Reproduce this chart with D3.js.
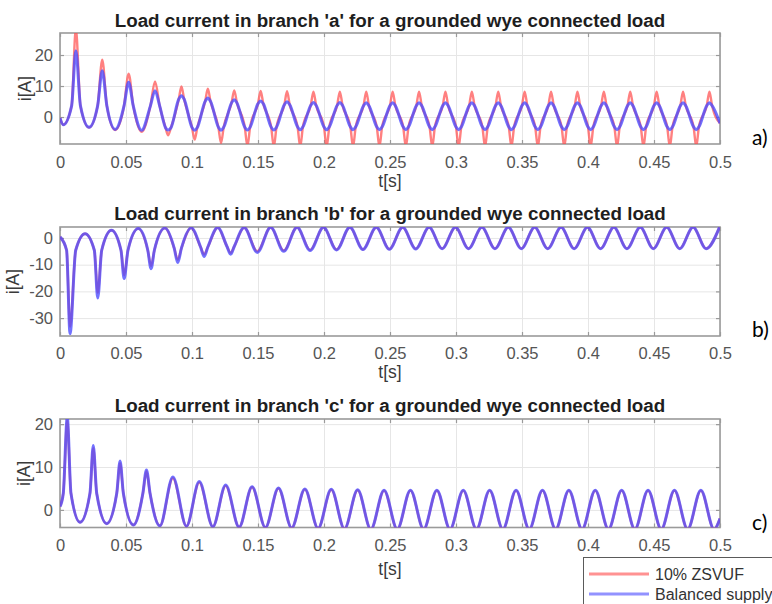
<!DOCTYPE html>
<html>
<head>
<meta charset="utf-8">
<script src="https://cdn.jsdelivr.net/npm/d3@7"></script>
<style>
  body { margin: 0; background: #fff; }
  svg { display: block; }
  text { font-family: "Liberation Sans", Arial, Helvetica, sans-serif; }
</style>
</head>
<body>
<svg id="chart"></svg>
<script>
/// data ///
const seriesNames = ["10% ZSVUF", "Balanced supply"];
const xTicks = [0, 0.05, 0.1, 0.15, 0.2, 0.25, 0.3, 0.35, 0.4, 0.45, 0.5];

// branch a : time [s], current [A]
const aTime = [
  0, 0.0025, 0.0088, 0.012, 0.0155, 0.022,
  0.0285, 0.032, 0.0355, 0.0418,
  0.0485, 0.052, 0.0555, 0.0618,
  0.0685, 0.072, 0.0755, 0.080, 0.0818, 0.084,
  0.090, 0.092, 0.094, 0.100, 0.102, 0.104,
  0.110, 0.112, 0.114, 0.120, 0.122, 0.124,
  0.130, 0.132, 0.134, 0.140, 0.142, 0.144,
  0.150, 0.152, 0.154, 0.160, 0.162, 0.164,
  0.170, 0.172, 0.174, 0.180, 0.182, 0.184,
  0.190, 0.192, 0.194, 0.200, 0.202, 0.204,
  0.210, 0.212, 0.214, 0.220, 0.222, 0.224,
  0.230, 0.232, 0.234, 0.240, 0.242, 0.244,
  0.250, 0.252, 0.254, 0.260, 0.262, 0.264,
  0.270, 0.272, 0.274, 0.280, 0.282, 0.284,
  0.290, 0.292, 0.294, 0.300, 0.302, 0.304,
  0.310, 0.312, 0.314, 0.320, 0.322, 0.324,
  0.330, 0.332, 0.334, 0.340, 0.342, 0.344,
  0.350, 0.352, 0.354, 0.360, 0.362, 0.364,
  0.370, 0.372, 0.374, 0.380, 0.382, 0.384,
  0.390, 0.392, 0.394, 0.400, 0.402, 0.404,
  0.410, 0.412, 0.414, 0.420, 0.422, 0.424,
  0.430, 0.432, 0.434, 0.440, 0.442, 0.444,
  0.450, 0.452, 0.454, 0.460, 0.462, 0.464,
  0.470, 0.472, 0.474, 0.480, 0.482, 0.484,
  0.490, 0.492, 0.494, 0.500
];
const aZsvuf = [
  -0.3, -2.5, 3.6, 28.5, 3.6, -3.4,
  3.6, 18.5, 3.6, -4.2,
  3.6, 14.0, 3.6, -4.8,
  3.6, 11.5, 3.6, -3.5, -5.9, -3.5,
  5.8, 9.9, 5.8, -3.4, -7.3, -3.4,
  5.1, 9.1, 5.1, -3.3, -8.4, -3.3,
  4.6, 8.6, 4.6, -3.3, -9.4, -3.3,
  4.3, 8.4, 4.3, -3.3, -9.6, -3.3,
  4.0, 8.3, 4.0, -3.2, -9.6, -3.2,
  3.8, 8.2, 3.8, -3.2, -9.6, -3.2,
  3.8, 8.2, 3.8, -3.2, -9.6, -3.2,
  3.7, 8.2, 3.7, -3.2, -9.6, -3.2,
  3.7, 8.2, 3.7, -3.2, -9.6, -3.2,
  3.7, 8.2, 3.7, -3.2, -9.6, -3.2,
  3.7, 8.2, 3.7, -3.2, -9.6, -3.2,
  3.7, 8.2, 3.7, -3.2, -9.6, -3.2,
  3.7, 8.2, 3.7, -3.2, -9.6, -3.2,
  3.7, 8.2, 3.7, -3.2, -9.6, -3.2,
  3.7, 8.2, 3.7, -3.2, -9.6, -3.2,
  3.7, 8.2, 3.7, -3.2, -9.6, -3.2,
  3.7, 8.2, 3.7, -3.2, -9.6, -3.2,
  3.7, 8.2, 3.7, -3.2, -9.6, -3.2,
  3.7, 8.2, 3.7, -3.2, -9.6, -3.2,
  3.7, 8.2, 3.7, -3.2, -9.6, -3.2,
  3.7, 8.2, 3.7, -2.0
];
const aBalanced = [
  -0.3, -2.5, 3.6, 21.4, 3.6, -3.3,
  3.6, 14.9, 3.6, -4.0,
  3.6, 11.2, 3.6, -4.3,
  3.6, 8.5, 3.6, -3.5, -4.2, -3.5,
  5.8, 6.9, 5.8, -3.4, -4.3, -3.4,
  5.1, 6.1, 5.1, -3.3, -4.3, -3.3,
  4.6, 5.6, 4.6, -3.3, -4.2, -3.3,
  4.3, 5.2, 4.3, -3.3, -4.2, -3.3,
  4.0, 4.9, 4.0, -3.2, -4.1, -3.2,
  3.8, 4.7, 3.8, -3.2, -4.1, -3.2,
  3.8, 4.7, 3.8, -3.2, -4.1, -3.2,
  3.7, 4.6, 3.7, -3.2, -4.1, -3.2,
  3.7, 4.6, 3.7, -3.2, -4.1, -3.2,
  3.7, 4.6, 3.7, -3.2, -4.1, -3.2,
  3.7, 4.6, 3.7, -3.2, -4.1, -3.2,
  3.7, 4.6, 3.7, -3.2, -4.1, -3.2,
  3.7, 4.6, 3.7, -3.2, -4.1, -3.2,
  3.7, 4.6, 3.7, -3.2, -4.1, -3.2,
  3.7, 4.6, 3.7, -3.2, -4.1, -3.2,
  3.7, 4.6, 3.7, -3.2, -4.1, -3.2,
  3.7, 4.6, 3.7, -3.2, -4.1, -3.2,
  3.7, 4.6, 3.7, -3.2, -4.1, -3.2,
  3.7, 4.6, 3.7, -3.2, -4.1, -3.2,
  3.7, 4.6, 3.7, -3.2, -4.1, -3.2,
  3.7, 4.6, 3.7, -2.0
];
const aTicks = [0, 10, 20];

// branch b
const bTime = [
  0, 0.005, 0.0076, 0.0119, 0.019,
  0.026, 0.0286, 0.0316, 0.039,
  0.0462, 0.0486, 0.0515, 0.0593,
  0.0665, 0.069, 0.0715, 0.0795,
  0.0865, 0.0892, 0.092, 0.0994,
  0.1065, 0.1092, 0.112, 0.1195,
  0.1265, 0.1293, 0.132, 0.1395,
  0.1495, 0.1596, 0.1695, 0.1796, 0.1895, 0.1996,
  0.2095, 0.2196, 0.2295, 0.2396, 0.2495, 0.2596,
  0.2695, 0.2796, 0.2895, 0.2996, 0.3095, 0.3196,
  0.3295, 0.3396, 0.3495, 0.3596, 0.3695, 0.3796,
  0.3895, 0.3996, 0.4095, 0.4196, 0.4295, 0.4396,
  0.4495, 0.4596, 0.4695, 0.4796, 0.4895, 0.4996
];
const bZsvuf = [
  0.4, -4.6, -33.3, -4.6, 1.6,
  -4.6, -20.5, -4.6, 2.9,
  -4.6, -14.0, -4.6, 3.5,
  -4.6, -10.5, -4.6, 3.7,
  -3.8, -8.2, -3.8, 3.8,
  -3.4, -6.2, -3.4, 3.9,
  -3.2, -5.6, -3.2, 3.9,
  -5.0, 4.0, -4.7, 4.0, -4.5, 4.0,
  -4.4, 4.0, -4.3, 4.0, -4.2, 4.0,
  -4.1, 4.0, -4.0, 4.0, -4.0, 4.0,
  -4.0, 4.0, -4.0, 4.0, -4.0, 4.0,
  -4.0, 4.0, -4.0, 4.0, -4.0, 4.0,
  -4.0, 4.0, -4.0, 4.0, -4.0, 4.0
];
const bBalanced = [
  0.4, -4.6, -35.8, -4.6, 1.6,
  -4.6, -22.5, -4.6, 2.9,
  -4.6, -15.2, -4.6, 3.5,
  -4.6, -11.5, -4.6, 3.7,
  -3.8, -9.2, -3.8, 3.8,
  -3.4, -6.9, -3.4, 3.9,
  -3.2, -6.1, -3.2, 3.9,
  -5.4, 4.0, -5.0, 4.0, -4.7, 4.0,
  -4.5, 4.0, -4.3, 4.0, -4.2, 4.0,
  -4.1, 4.0, -4.0, 4.0, -4.0, 4.0,
  -4.0, 4.0, -4.0, 4.0, -4.0, 4.0,
  -4.0, 4.0, -4.0, 4.0, -4.0, 4.0,
  -4.0, 4.0, -4.0, 4.0, -4.0, 4.0
];
const bTicks = [-30, -20, -10, 0];

// branch c
const cTime = [
  0, 0.0025, 0.0055, 0.0083, 0.0152,
  0.0227, 0.0252, 0.0278, 0.0354,
  0.043, 0.0455, 0.048, 0.0556,
  0.0628, 0.0655, 0.0682, 0.0757,
  0.0855, 0.0958, 0.1055, 0.1158, 0.1255, 0.1357,
  0.1455, 0.1556, 0.1655, 0.1755, 0.1855, 0.1955,
  0.2055, 0.2155, 0.2255, 0.2355, 0.2455, 0.2555,
  0.2655, 0.2755, 0.2855, 0.2955, 0.3055, 0.3155,
  0.3255, 0.3355, 0.3455, 0.3555, 0.3655, 0.3755,
  0.3855, 0.3955, 0.4055, 0.4155, 0.4255, 0.4355,
  0.4455, 0.4555, 0.4655, 0.4755, 0.4855, 0.4955,
  0.5
];
const cZsvuf = [
  0.8, 3.9, 20.9, 3.9, -2.9,
  3.9, 14.4, 3.9, -3.2,
  3.9, 10.9, 3.9, -3.5,
  3.9, 9.0, 3.9, -3.7,
  7.4, -3.8, 6.4, -3.9, 5.6, -4.0,
  5.3, -4.1, 5.0, -4.2, 4.8, -4.3,
  4.7, -4.4, 4.6, -4.5, 4.5, -4.5,
  4.5, -4.5, 4.5, -4.5, 4.5, -4.5,
  4.5, -4.5, 4.5, -4.5, 4.5, -4.5,
  4.5, -4.5, 4.5, -4.5, 4.5, -4.5,
  4.5, -4.5, 4.5, -4.5, 4.5, -4.5,
  -2.0
];
const cBalanced = [
  0.8, 3.9, 21.6, 3.9, -2.9,
  3.9, 15.0, 3.9, -3.2,
  3.9, 11.4, 3.9, -3.5,
  3.9, 9.3, 3.9, -3.7,
  7.7, -3.8, 6.6, -3.9, 5.8, -4.0,
  5.4, -4.1, 5.1, -4.2, 4.9, -4.3,
  4.8, -4.4, 4.7, -4.5, 4.6, -4.5,
  4.6, -4.5, 4.6, -4.5, 4.6, -4.5,
  4.6, -4.5, 4.6, -4.5, 4.6, -4.5,
  4.6, -4.5, 4.6, -4.5, 4.6, -4.5,
  4.6, -4.5, 4.6, -4.5, 4.6, -4.5,
  -2.0
];
const cTicks = [0, 10, 20];

/// constants ///
const width = 772;
const height = 604;
const left = 60;
const right = 720;
const colourRed = "#ff4a4a";
const colourBlue = "#4a4aff";
const gridColour = "#e6e6e6";
const axisColour = "#9a9a9a";
const tickTextColour = "#555";

const panels = [
  { title: "Load current in branch 'a' for a grounded wye connected load", tag: "a)",
    time: aTime, zsvuf: aZsvuf, balanced: aBalanced, yDomain: [-8.7, 27.1], yTicks: aTicks,
    top: 33, bottom: 144, titleY: 26.5, tagY: 145, yLabelX: 31, xLabelY: 187, pad: 12.5 },
  { title: "Load current in branch 'b' for a grounded wye connected load", tag: "b)",
    time: bTime, zsvuf: bZsvuf, balanced: bBalanced, yDomain: [-36.7, 4.1], yTicks: bTicks,
    top: 227, bottom: 336, titleY: 219.5, tagY: 337, yLabelX: 19, xLabelY: 378, pad: 11.5 },
  { title: "Load current in branch 'c' for a grounded wye connected load", tag: "c)",
    time: cTime, zsvuf: cZsvuf, balanced: cBalanced, yDomain: [-4.1, 21.2], yTicks: cTicks,
    top: 419, bottom: 527.5, titleY: 412, tagY: 530, yLabelX: 30, xLabelY: 575, pad: 12 }
];

const svg = d3.select("#chart").attr("width", width).attr("height", height);

const styleAxis = (s) => {
  s.select(".domain").remove();
  s.selectAll(".tick line").attr("stroke", axisColour).attr("stroke-width", 1.2);
  s.selectAll(".tick text").attr("fill", tickTextColour).attr("font-size", "16.5px");
};

panels.forEach((p, i) => {
  const x = d3.scaleLinear().domain([0, 0.5]).range([left, right]);
  const y = d3.scaleLinear().domain(p.yDomain).range([p.bottom, p.top]);
  const h = p.bottom - p.top;
  const g = svg.append("g");

  svg.append("clipPath").attr("id", "clip" + i)
    .append("rect").attr("x", left).attr("y", p.top).attr("width", right - left).attr("height", h);

  // grid
  g.append("g").attr("transform", `translate(0,${p.bottom})`)
    .call(d3.axisBottom(x).tickValues(xTicks).tickSize(-h).tickFormat(""))
    .call(s => { s.select(".domain").remove(); s.selectAll("line").attr("stroke", gridColour); });
  g.append("g").attr("transform", `translate(${left},0)`)
    .call(d3.axisLeft(y).tickValues(p.yTicks).tickSize(-(right - left)).tickFormat(""))
    .call(s => { s.select(".domain").remove(); s.selectAll("line").attr("stroke", gridColour); });

  // box
  g.append("rect").attr("x", left).attr("y", p.top).attr("width", right - left).attr("height", h)
    .attr("fill", "none").attr("stroke", axisColour).attr("stroke-width", 1.6);

  // ticks on four sides (inward)
  g.append("g").attr("transform", `translate(0,${p.bottom})`)
    .call(d3.axisBottom(x).tickValues(xTicks).tickSizeInner(-4).tickSizeOuter(0).tickPadding(p.pad).tickFormat(d => String(d)))
    .call(styleAxis);
  g.append("g").attr("transform", `translate(0,${p.top})`)
    .call(d3.axisTop(x).tickValues(xTicks).tickSizeInner(-4).tickSizeOuter(0).tickFormat(""))
    .call(styleAxis);
  g.append("g").attr("transform", `translate(${left},0)`)
    .call(d3.axisLeft(y).tickValues(p.yTicks).tickSizeInner(-4).tickSizeOuter(0).tickPadding(7).tickFormat(d => String(d)))
    .call(styleAxis);
  g.append("g").attr("transform", `translate(${right},0)`)
    .call(d3.axisRight(y).tickValues(p.yTicks).tickSizeInner(-4).tickSizeOuter(0).tickFormat(""))
    .call(styleAxis);

  // lines
  const line = d3.line()
    .x((d, j) => x(p.time[j]))
    .y(d => y(d))
    .curve(d3.curveMonotoneX);

  const plot = g.append("g").attr("clip-path", `url(#clip${i})`);
  plot.append("path").attr("d", line(p.zsvuf))
    .attr("fill", "none").attr("stroke", colourRed).attr("stroke-width", 2.4)
    .attr("stroke-opacity", 0.7).attr("stroke-linejoin", "round");
  plot.append("path").attr("d", line(p.balanced))
    .attr("fill", "none").attr("stroke", colourBlue).attr("stroke-width", 3)
    .attr("stroke-opacity", 0.78).attr("stroke-linejoin", "round");

  // texts
  g.append("text").attr("x", (left + right) / 2).attr("y", p.titleY)
    .attr("text-anchor", "middle").attr("font-weight", "bold").attr("font-size", "18.8px")
    .attr("fill", "#1e1e1e").text(p.title);
  g.append("text").attr("x", (left + right) / 2).attr("y", p.xLabelY)
    .attr("text-anchor", "middle").attr("font-size", "17.5px").attr("fill", "#3a3a3a").text("t[s]");
  g.append("text").attr("transform", `translate(${p.yLabelX},${(p.top + p.bottom) / 2}) rotate(-90)`)
    .attr("text-anchor", "middle").attr("font-size", "17.5px").attr("fill", "#3a3a3a").text("i[A]");
  g.append("text").attr("x", 752).attr("y", p.tagY)
    .style("font-family", "Lato, 'Open Sans', sans-serif").attr("font-size", "21px")
    .attr("fill", "#000").text(p.tag);
});

/// legend ///
const legend = svg.append("g");
legend.append("rect").attr("x", 583.5).attr("y", 557.5).attr("width", 220).attr("height", 70)
  .attr("fill", "#fff").attr("stroke", "#5a5a5a").attr("stroke-width", 1);
const legendColours = [colourRed, colourBlue];
const legendOpacity = [0.6, 0.6];
seriesNames.forEach((name, i) => {
  const ly = 574 + i * 20;
  legend.append("line").attr("x1", 589).attr("x2", 649).attr("y1", ly).attr("y2", ly)
    .attr("stroke", legendColours[i]).attr("stroke-width", 3).attr("stroke-opacity", legendOpacity[i]);
  legend.append("text").attr("x", 655).attr("y", ly + 6)
    .attr("font-size", "16px").attr("fill", "#333").text(name);
});
</script>
</body>
</html>
